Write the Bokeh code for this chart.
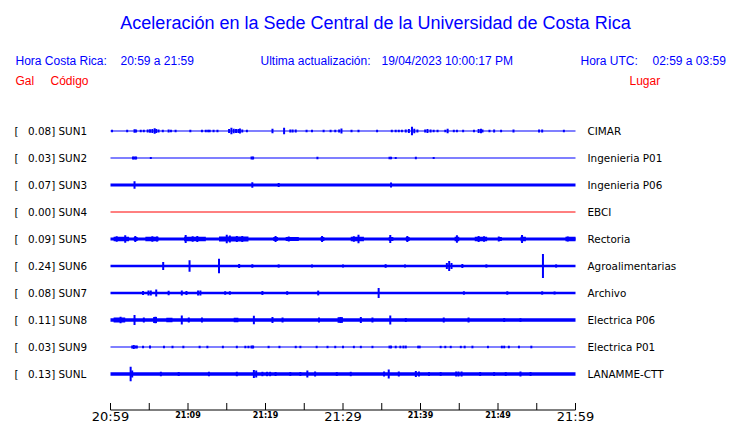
from bokeh.plotting import figure
from bokeh.models import Range1d, ColumnDataSource
from bokeh.core.properties import value
from bokeh.embed import file_html
from bokeh.resources import INLINE

# ---------------- data ----------------
TITLE = "Aceleración en la Sede Central de la Universidad de Costa Rica"
HORA_CR = "20:59 a 21:59"
HORA_UTC = "02:59 a 03:59"
ACTUALIZACION = "19/04/2023 10:00:17 PM"

codes = ["SUN1", "SUN2", "SUN3", "SUN4", "SUN5", "SUN6", "SUN7", "SUN8", "SUN9", "SUNL"]
peaks_gal = [0.08, 0.03, 0.07, 0.00, 0.09, 0.24, 0.08, 0.11, 0.03, 0.13]
places = ["CIMAR", "Ingenieria P01", "Ingenieria P06", "EBCI", "Rectoria",
          "Agroalimentarias", "Archivo", "Electrica P06", "Electrica P01", "LANAMME-CTT"]
# background noise amplitude of each trace (relative units)
noise = [0.6, 0.6, 1.5, 0.0, 1.5, 1.3, 1.3, 1.7, 0.6, 1.7]

# time axis (minutes after 20:59)
tick_minutes = [0, 5, 10, 15, 20, 25, 30, 35, 40, 45, 50, 55, 60]
label_minutes = [0, 10, 20, 30, 40, 50, 60]
label_texts = ["20:59", "21:09", "21:19", "21:29", "21:39", "21:49", "21:59"]
label_big = [True, False, False, True, False, False, True]

# bursts: time (min) and amplitude (relative units)
sun1_t = [0.2, 2.15, 3.1, 3.3, 3.9, 4.3, 4.8, 5.1, 5.4, 5.7, 5.9, 6.2, 6.75, 7.5, 7.8, 8.4, 10.3, 11.8, 12.3, 12.6,
          12.8, 13.3, 13.8, 15.3, 15.6, 15.9, 16.2, 16.5, 16.7, 17.0, 17.6, 20.9, 22.4, 23.2, 23.5, 23.9, 25.3, 26.0, 27.5, 28.4,
          29.0, 29.5, 29.8, 31.1, 32.0, 34.4, 36.3, 36.8, 37.2, 37.6, 38.1, 38.5, 38.9, 39.2, 39.6, 40.6, 40.9, 41.3, 41.7, 42.2,
          43.2, 43.5, 44.3, 44.7, 45.5, 46.9, 47.5, 47.8, 48.0, 48.9, 49.5, 50.4, 52.0, 55.3, 55.7, 58.5]
sun1_a = [1.3, 1.3, 1.8, 1.6, 1.2, 1.3, 1.5, 1.8, 2.0, 2.8, 2.0, 1.5, 1.3, 1.5, 1.2, 1.3, 1.2, 1.2, 1.3, 1.3,
          1.3, 1.2, 1.2, 2.0, 3.2, 2.2, 2.0, 2.0, 2.5, 1.5, 1.3, 2.3, 3.3, 1.6, 1.6, 1.6, 1.2, 1.2, 1.2, 1.3,
          1.3, 1.6, 2.5, 1.3, 1.3, 1.2, 1.3, 1.3, 1.3, 1.3, 1.5, 2.0, 4.2, 2.2, 1.6, 1.6, 2.0, 1.6, 1.3, 1.3,
          1.3, 2.2, 1.3, 1.3, 1.2, 1.2, 2.0, 2.2, 1.5, 1.3, 1.6, 1.2, 1.6, 1.6, 1.6, 1.2]
sun2_t = [2.9, 3.1, 3.3, 5.2, 18.2, 18.4, 26.7, 36.0, 36.2, 36.8, 39.4, 41.7]
sun2_a = [1.4, 1.4, 1.4, 1.1, 1.4, 1.4, 1.3, 1.3, 1.3, 1.1, 1.3, 1.1]
sun3_t = [3.1, 18.3, 21.7, 36.2]
sun3_a = [3.7, 2.8, 2.1, 2.5]
sun4_t = []
sun4_a = []
sun5_t = [0.8, 1.9, 3.2, 5.4, 6.0, 9.7, 10.6, 11.2, 15.0, 15.4, 16.3, 17.0, 21.3, 23.0, 27.3, 31.4, 32.0, 36.1, 38.3, 44.7,
          47.5, 48.2, 50.1, 53.1, 59.0]
sun5_a = [2.8, 3.7, 3.0, 2.8, 2.5, 4.0, 2.8, 3.0, 4.2, 3.5, 3.0, 3.0, 3.0, 2.6, 3.0, 2.8, 4.2, 4.0, 3.0, 3.8,
          3.0, 2.8, 2.6, 4.0, 2.6]
sun6_t = [6.8, 10.2, 14.0, 16.6, 18.3, 21.7, 26.0, 30.0, 35.5, 38.0, 43.4, 43.7, 44.0, 45.4, 48.5, 55.8, 57.5]
sun6_a = [4.0, 5.8, 7.2, 2.0, 1.8, 1.6, 1.6, 1.6, 1.8, 1.6, 3.0, 5.0, 3.0, 2.0, 1.6, 12.0, 1.6]
sun7_t = [4.2, 4.9, 5.2, 5.9, 7.5, 9.2, 9.8, 11.3, 11.6, 14.8, 15.4, 19.6, 22.8, 26.8, 34.6, 45.6, 51.2, 55.7, 57.3]
sun7_a = [2.0, 2.5, 2.5, 3.4, 2.2, 2.5, 2.0, 2.5, 2.5, 1.7, 1.7, 2.0, 1.8, 2.4, 5.0, 1.7, 1.7, 1.7, 1.5]
sun8_t = [1.3, 3.1, 4.3, 5.8, 9.2, 10.1, 11.8, 18.5, 20.9, 22.2, 26.9, 29.7, 32.3, 33.8, 36.1, 38.1, 43.0, 46.2, 50.8, 52.9]
sun8_a = [3.3, 5.0, 2.5, 3.3, 4.5, 2.5, 2.5, 4.2, 3.0, 2.5, 2.5, 3.0, 3.0, 2.5, 4.5, 2.0, 2.5, 2.5, 2.0, 1.8]
sun9_t = [2.8, 3.0, 3.2, 3.4, 4.2, 5.1, 6.9, 8.0, 9.4, 11.5, 12.5, 14.5, 16.3, 17.4, 17.8, 18.2, 18.4, 20.4, 21.8, 23.9,
          24.5, 26.6, 28.0, 29.0, 30.0, 31.4, 32.3, 33.8, 36.0, 36.2, 36.8, 37.4, 37.8, 38.1, 39.7, 39.9, 42.6, 43.2, 43.9, 45.2,
          45.7, 46.7, 48.7, 50.5, 50.8, 51.4, 52.7, 54.3]
sun9_a = [1.5, 1.9, 1.6, 1.4, 1.3, 1.4, 1.2, 1.2, 1.2, 1.2, 1.2, 1.2, 1.2, 1.3, 1.3, 1.4, 1.6, 1.2, 1.2, 1.2,
          1.2, 1.2, 1.2, 1.2, 1.2, 1.2, 1.2, 1.2, 1.4, 1.4, 1.3, 1.3, 1.4, 1.4, 1.3, 1.3, 1.2, 1.2, 1.2, 1.2,
          1.3, 1.3, 1.2, 1.3, 1.3, 1.3, 1.3, 1.3]
sunl_t = [2.6, 2.8, 6.5, 8.8, 12.7, 16.3, 18.5, 18.8, 19.6, 20.2, 20.6, 21.3, 23.2, 24.5, 25.4, 26.4, 29.2, 31.0, 35.3, 35.9,
          37.2, 39.4, 39.8, 41.1, 42.6, 44.6, 44.9, 45.3, 47.7, 49.5, 51.0, 52.9, 54.2]
sunl_a = [7.3, 3.5, 2.3, 1.9, 2.3, 2.3, 4.0, 3.5, 2.2, 2.2, 2.2, 2.0, 1.9, 2.0, 3.5, 2.5, 1.9, 2.2, 2.5, 4.5,
          2.5, 3.0, 2.5, 1.9, 1.9, 2.5, 2.5, 2.5, 2.0, 1.9, 1.9, 2.5, 2.0]

# intervals of sustained shaking: start, end (min), amplitude
sun5_busy_start = [0.4, 3.0, 4.5, 9.5, 14.0, 21.0, 22.6, 27.1, 31.0, 35.9, 38.1, 44.4, 47.0, 50.0, 52.9, 58.7]
sun5_busy_end = [2.4, 3.5, 6.2, 12.3, 17.8, 21.6, 24.3, 27.6, 32.7, 36.5, 38.6, 45.0, 48.6, 50.5, 53.6, 60.0]
sun5_busy_a = [2.3, 2.0, 2.2, 2.2, 2.4, 2.0, 2.0, 2.0, 2.2, 2.0, 2.0, 2.2, 2.2, 2.0, 2.2, 2.2]
sun8_busy_start = [0.4, 5.5, 7.2, 15.9, 29.3]
sun8_busy_end = [1.9, 6.0, 8.0, 16.5, 30.0]
sun8_busy_a = [2.6, 3.0, 2.2, 2.2, 2.8]

burst_t = [sun1_t, sun2_t, sun3_t, sun4_t, sun5_t, sun6_t, sun7_t, sun8_t, sun9_t, sunl_t]
burst_a = [sun1_a, sun2_a, sun3_a, sun4_a, sun5_a, sun6_a, sun7_a, sun8_a, sun9_a, sunl_a]
busy = {4: (sun5_busy_start, sun5_busy_end, sun5_busy_a),
        7: (sun8_busy_start, sun8_busy_end, sun8_busy_a)}

# ---------------- layout ----------------
W, H = 740, 423
PX_PER_MIN = 465 / 60.0
X0 = 110  # pixel x of minute 0


def mx(px):
    return (px - X0) / PX_PER_MIN


ROW0 = 130.5
ROW_STEP = 27
rows = [ROW0 + ROW_STEP * i for i in range(len(codes))]
AXIS_Y = 409.5
TICK_LEN = 7

BLUE = "#0000FF"
RED = "#FF0000"

p = figure(width=W, height=H, output_backend="svg", toolbar_location=None,
           x_range=Range1d(-X0 / PX_PER_MIN, (W - X0) / PX_PER_MIN),
           y_range=Range1d(H, 0),
           x_axis_type=None, y_axis_type=None, min_border=0)
p.outline_line_color = None
p.background_fill_color = "white"
p.border_fill_color = "white"

# traces
for i, y in enumerate(rows):
    n = noise[i]
    if n == 0:
        p.segment(x0=[0], x1=[60], y0=[y], y1=[y], line_color=RED, line_width=1)
        continue
    p.quad(left=[0], right=[60], top=[y - n], bottom=[y + n], fill_color=BLUE, line_color=None)
    if i in busy:
        s, e, a = busy[i]
        p.quad(left=s, right=e, top=[y - v for v in a], bottom=[y + v for v in a],
               fill_color=BLUE, line_color=None)
    ts, amps = burst_t[i], burst_a[i]
    if ts:
        src = ColumnDataSource(dict(x=ts, y0=[y - v for v in amps], y1=[y + v for v in amps]))
        p.segment(x0="x", x1="x", y0="y0", y1="y1", source=src, line_color=BLUE, line_width=2)

# title and header texts
HFONT = value("Liberation Sans")
p.text(x=[mx(375)], y=[22], text=[TITLE], text_font=HFONT, text_font_size=value("18px"),
       text_color=BLUE, text_align="center", text_baseline="middle")
p.text(x=[mx(15), mx(120), mx(260), mx(381), mx(580), mx(652)], y=[60] * 6,
       text=["Hora Costa Rica:", HORA_CR, "Ultima actualización:", ACTUALIZACION, "Hora UTC:", HORA_UTC],
       text_font=HFONT, text_font_size=value("12px"), text_color=BLUE,
       text_align="left", text_baseline="middle")
p.text(x=[mx(15), mx(50), mx(629)], y=[80] * 3, text=["Gal", "Código", "Lugar"],
       text_font=HFONT, text_font_size=value("12px"), text_color=RED,
       text_align="left", text_baseline="middle")

# row labels
RFONT = value("DejaVu Sans")
p.text(x=[mx(14)] * len(rows), y=rows, text=["["] * len(rows), text_font=RFONT,
       text_font_size=value("10.4px"), text_color="black", text_align="left", text_baseline="middle")
p.text(x=[mx(27.5)] * len(rows), y=rows, text=[f"{v:.2f}] {c}" for v, c in zip(peaks_gal, codes)],
       text_font=RFONT, text_font_size=value("10.4px"), text_color="black",
       text_align="left", text_baseline="middle")
p.text(x=[mx(587)] * len(rows), y=rows, text=places, text_font=RFONT,
       text_font_size=value("10.4px"), text_color="black", text_align="left", text_baseline="middle")

# time axis: line, upward ticks and two sizes of labels
p.segment(x0=[tick_minutes[0]], x1=[tick_minutes[-1]], y0=[AXIS_Y], y1=[AXIS_Y],
          line_color="black", line_width=1)
p.segment(x0=tick_minutes, x1=tick_minutes, y0=[AXIS_Y] * len(tick_minutes),
          y1=[AXIS_Y - TICK_LEN] * len(tick_minutes), line_color="black", line_width=1)

big_t = [t for t, b in zip(label_minutes, label_big) if b]
big_s = [s for s, b in zip(label_texts, label_big) if b]
small_t = [t for t, b in zip(label_minutes, label_big) if not b]
small_s = [s for s, b in zip(label_texts, label_big) if not b]
p.text(x=big_t, y=[416] * len(big_t), text=big_s, text_font=RFONT,
       text_font_size=value("13px"), text_color="black", text_align="center",
       text_baseline="middle")
p.text(x=small_t, y=[414.8] * len(small_t), text=small_s, text_font=RFONT,
       text_font_size=value("8px"), text_font_style="bold", text_color="black",
       text_align="center", text_baseline="middle")

open("out.html", "w").write(file_html(p, INLINE))
